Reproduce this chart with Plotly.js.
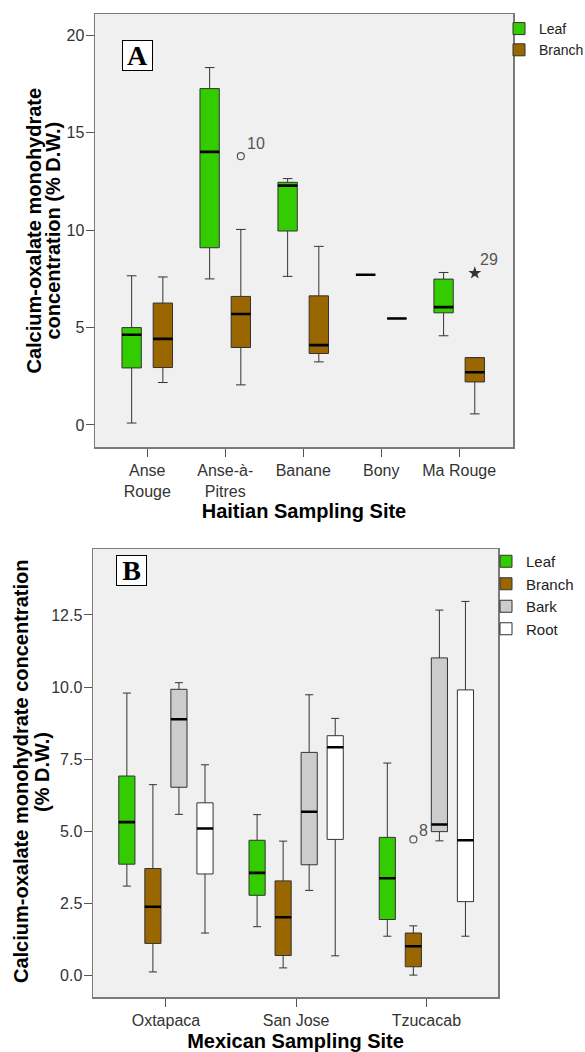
<!DOCTYPE html>
<html><head><meta charset="utf-8">
<script src="https://cdn.plot.ly/plotly-3.0.1.min.js"></script>
<style>html,body{margin:0;padding:0;background:#fff}#chart{width:585px;height:1052px}</style>
</head><body><div id="chart"></div>
<script>
// ---------- Panel A: Haiti ----------
const sitesA = ['Anse Rouge', 'Anse-à-Pitres', 'Banane', 'Bony', 'Ma Rouge'];
const tickLabelsA = ['Anse<br>Rouge', 'Anse-à-<br>Pitres', 'Banane', 'Bony', 'Ma Rouge'];
const leafA_low  = [0.10, 7.50, 7.63, 7.71, 4.58];
const leafA_q1   = [2.93, 9.10, 9.96, 7.71, 5.76];
const leafA_med  = [4.63, 14.02, 12.29, 7.71, 6.05];
const leafA_q3   = [5.00, 17.27, 12.46, 7.71, 7.49];
const leafA_high = [7.66, 18.35, 12.65, 7.71, 7.83];
const branchA_low  = [2.18, 2.06, 3.24, 5.47, 0.57];
const branchA_q1   = [2.95, 3.98, 3.67, 5.47, 2.21];
const branchA_med  = [4.42, 5.70, 4.10, 5.47, 2.71];
const branchA_q3   = [6.26, 6.60, 6.63, 5.47, 3.46];
const branchA_high = [7.60, 10.04, 9.17, 5.47, 3.46];
const outlierA_site = ['Anse-à-Pitres'];
const outlierA_val = [13.8];
const outlierA_label = ['10'];
const extremeA_site = ['Ma Rouge'];
const extremeA_val = [7.8];
const extremeA_label = ['29'];
const ticksA = [0, 5, 10, 15, 20];
const yTitleA = ['Calcium-oxalate monohydrate', 'concentration (% D.W.)'];

// ---------- Panel B: Mexico ----------
const sitesB = ['Oxtapaca', 'San Jose', 'Tzucacab'];
const leafB_low  = [3.09, 1.68, 1.35];
const leafB_q1   = [3.85, 2.77, 1.93];
const leafB_med  = [5.31, 3.55, 3.36];
const leafB_q3   = [6.91, 4.68, 4.78];
const leafB_high = [9.79, 5.57, 7.36];
const branchB_low  = [0.11, 0.25, 0.00];
const branchB_q1   = [1.10, 0.68, 0.29];
const branchB_med  = [2.37, 2.01, 1.00];
const branchB_q3   = [3.70, 3.27, 1.46];
const branchB_high = [6.61, 4.65, 1.71];
const barkB_low  = [5.58, 2.94, 4.66];
const barkB_q1   = [6.52, 3.83, 4.98];
const barkB_med  = [8.88, 5.67, 5.23];
const barkB_q3   = [9.92, 7.73, 11.01];
const barkB_high = [10.15, 9.73, 12.67];
const rootB_low  = [1.46, 0.67, 1.35];
const rootB_q1   = [3.51, 4.71, 2.55];
const rootB_med  = [5.09, 7.91, 4.68];
const rootB_q3   = [5.98, 8.31, 9.90];
const rootB_high = [7.30, 8.91, 12.97];
const outlierB_site = ['Tzucacab'];
const outlierB_val = [4.71];
const outlierB_label = ['8'];
const ticksB = [0, 2.5, 5, 7.5, 10, 12.5];
const yTitleB = ['Calcium-oxalate monohydrate concentration', '(% D.W.)'];

const COLORS = {Leaf: '#33cc00', Branch: '#996600', Bark: '#cccccc', Root: '#ffffff'};

function boxTrace(name, sites, low, q1, med, q3, high, xa, ya, og, legend) {
  return {type: 'box', name: name, x: sites, lowerfence: low, q1: q1, median: med, q3: q3, upperfence: high,
    fillcolor: COLORS[name], line: {color: '#333', width: 1}, whiskerwidth: 0.5,
    offsetgroup: og, xaxis: xa, yaxis: ya, legend: legend, hoverinfo: 'skip'};
}
function medianTrace(sites, med, xa, ya, og) {
  return {type: 'box', x: sites, lowerfence: med, q1: med, median: med, q3: med, upperfence: med,
    fillcolor: 'rgba(0,0,0,0)', line: {color: '#000', width: 2.6}, whiskerwidth: 0,
    offsetgroup: og, xaxis: xa, yaxis: ya, showlegend: false, hoverinfo: 'skip'};
}
function pointTrace(sites, vals, symbol, size, color, xa, ya, og) {
  return {type: 'box', x: sites, y: vals, boxpoints: 'all', jitter: 0, pointpos: 0,
    fillcolor: 'rgba(0,0,0,0)', line: {color: 'rgba(0,0,0,0)', width: 0}, whiskerwidth: 0,
    marker: {symbol: symbol, size: size, color: color, line: {color: color, width: 1.2}},
    offsetgroup: og, xaxis: xa, yaxis: ya, showlegend: false, hoverinfo: 'skip'};
}

const traces = [
  boxTrace('Leaf', sitesA, leafA_low, leafA_q1, leafA_med, leafA_q3, leafA_high, 'x', 'y', 'A1', 'legend'),
  boxTrace('Branch', sitesA, branchA_low, branchA_q1, branchA_med, branchA_q3, branchA_high, 'x', 'y', 'A2', 'legend'),
  medianTrace(sitesA, leafA_med, 'x', 'y', 'A1'),
  medianTrace(sitesA, branchA_med, 'x', 'y', 'A2'),
  pointTrace(outlierA_site, outlierA_val, 'circle-open', 7, '#555', 'x', 'y', 'A2'),
  pointTrace(extremeA_site, extremeA_val, 'star', 7, '#333', 'x', 'y', 'A2'),

  boxTrace('Leaf', sitesB, leafB_low, leafB_q1, leafB_med, leafB_q3, leafB_high, 'x2', 'y2', 'B1', 'legend2'),
  boxTrace('Branch', sitesB, branchB_low, branchB_q1, branchB_med, branchB_q3, branchB_high, 'x2', 'y2', 'B2', 'legend2'),
  boxTrace('Bark', sitesB, barkB_low, barkB_q1, barkB_med, barkB_q3, barkB_high, 'x2', 'y2', 'B3', 'legend2'),
  boxTrace('Root', sitesB, rootB_low, rootB_q1, rootB_med, rootB_q3, rootB_high, 'x2', 'y2', 'B4', 'legend2'),
  medianTrace(sitesB, leafB_med, 'x2', 'y2', 'B1'),
  medianTrace(sitesB, branchB_med, 'x2', 'y2', 'B2'),
  medianTrace(sitesB, barkB_med, 'x2', 'y2', 'B3'),
  medianTrace(sitesB, rootB_med, 'x2', 'y2', 'B4'),
  pointTrace(outlierB_site, outlierB_val, 'circle-open', 7, '#555', 'x2', 'y2', 'B2')
];

const axisCommon = {
  showline: true, mirror: true, linecolor: '#7a7a7a', linewidth: 1.5,
  ticks: 'outside', ticklen: 8, tickcolor: '#555', tickwidth: 1,
  showgrid: false, zeroline: false,
  tickfont: {size: 16, color: '#333'}
};
const titleFont = {size: 20, color: '#000'};
const yTitleFont = {family: 'Arial, "Liberation Sans", sans-serif', size: 20, color: '#000'};

function yTitle(text, xpx, ypx) {
  return {xref: 'paper', yref: 'paper', x: xpx / 585, y: 1 - ypx / 1052, text: '<b>' + text + '</b>',
    textangle: -90, showarrow: false, font: yTitleFont, xanchor: 'center', yanchor: 'middle'};
}

const layout = {
  width: 585, height: 1052,
  margin: {l: 0, r: 0, t: 0, b: 0, autoexpand: false},
  paper_bgcolor: '#ffffff', plot_bgcolor: '#f0f0f0',
  font: {family: 'Arial, "Liberation Sans", sans-serif', size: 16, color: '#333'},
  boxmode: 'group', boxgap: 0.2, boxgroupgap: 0.38,
  xaxis: Object.assign({}, axisCommon, {
    domain: [95 / 585, 513 / 585], anchor: 'y', type: 'category',
    categoryorder: 'array', categoryarray: sitesA, tickvals: sitesA, ticktext: tickLabelsA,
    range: [-0.67, 4.69],
    title: {text: '<b>Haitian Sampling Site</b>', font: titleFont, standoff: 2}
  }),
  yaxis: Object.assign({}, axisCommon, {
    domain: [1 - 447 / 1052, 1 - 14 / 1052], anchor: 'x',
    range: [-1.13, 21.1], tickvals: ticksA, ticklabelstandoff: -2
  }),
  xaxis2: Object.assign({}, axisCommon, {
    domain: [93 / 585, 498 / 585], anchor: 'y2', type: 'category',
    categoryorder: 'array', categoryarray: sitesB, tickvals: sitesB, ticktext: sitesB,
    range: [-0.56, 2.55],
    title: {text: '<b>Mexican Sampling Site</b>', font: titleFont, standoff: 6}
  }),
  yaxis2: Object.assign({}, axisCommon, {
    domain: [1 - 997 / 1052, 1 - 549 / 1052], anchor: 'x2',
    range: [-0.76, 14.79], tickvals: ticksB, tickformat: '.1f', ticklabelstandoff: -2
  }),
  legend: {x: 499 / 585, y: 1 - 13 / 1052, xanchor: 'left', yanchor: 'top',
    font: {size: 14, color: '#222'}, itemwidth: 30, bgcolor: 'rgba(0,0,0,0)', tracegroupgap: 0},
  legend2: {x: 486 / 585, y: 1 - 545 / 1052, xanchor: 'left', yanchor: 'top',
    font: {size: 15, color: '#222'}, itemwidth: 30, bgcolor: 'rgba(0,0,0,0)', tracegroupgap: 0},
  annotations: [
    yTitle(yTitleA[0], 33, 230.5),
    yTitle(yTitleA[1], 52, 230.5),
    yTitle(yTitleB[0], 21, 772),
    yTitle(yTitleB[1], 42, 772),
    {xref: 'paper', yref: 'paper', x: 121.5 / 585, y: 1 - 40 / 1052, text: '<b>A</b>', showarrow: false,
      font: {family: '"Liberation Serif", "Times New Roman", serif', size: 28, color: '#000'},
      bordercolor: '#000', borderwidth: 1, bgcolor: '#fff', borderpad: 1, width: 27, height: 27},
    {xref: 'paper', yref: 'paper', x: 115.5 / 585, y: 1 - 570.5 / 1052, text: '<b>B</b>', showarrow: false,
      font: {family: '"Liberation Serif", "Times New Roman", serif', size: 28, color: '#000'},
      bordercolor: '#000', borderwidth: 1, bgcolor: '#fff', borderpad: 1, width: 27, height: 27},
    {xref: 'x', yref: 'y', x: outlierA_site[0], y: outlierA_val[0], text: outlierA_label[0], showarrow: false,
      xshift: 31, yshift: 13, font: {size: 16, color: '#555'}},
    {xref: 'x', yref: 'y', x: extremeA_site[0], y: extremeA_val[0], text: extremeA_label[0], showarrow: false,
      xshift: 30, yshift: 14, font: {size: 16, color: '#555'}},
    {xref: 'x2', yref: 'y2', x: outlierB_site[0], y: outlierB_val[0], text: outlierB_label[0], showarrow: false,
      xshift: -3, yshift: 9, font: {size: 16, color: '#555'}}
  ]
};

Plotly.newPlot('chart', traces, layout, {staticPlot: true, displayModeBar: false});
</script>
</body></html>
